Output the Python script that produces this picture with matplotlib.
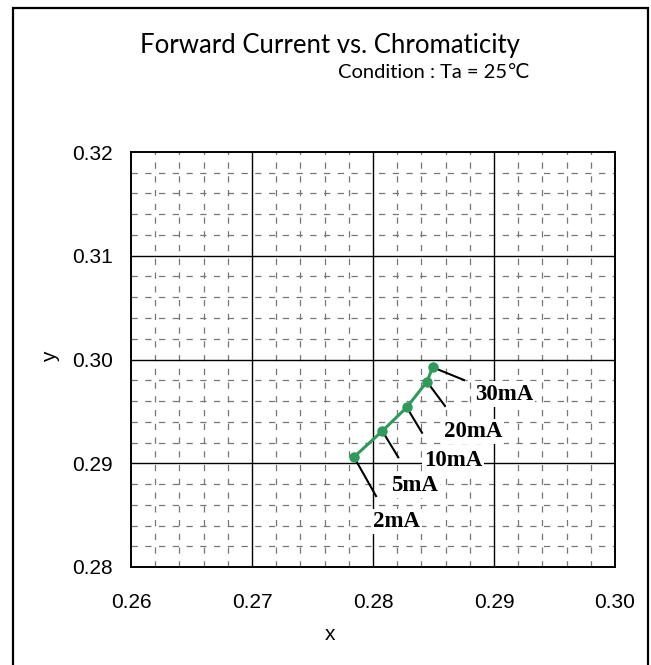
import numpy as np
import matplotlib
matplotlib.use("Agg")
import matplotlib.pyplot as plt
from matplotlib.patches import Rectangle

# data
currents = ["2mA", "5mA", "10mA", "20mA", "30mA"]
cx = [0.27843, 0.28077, 0.28279, 0.28446, 0.28493]
cy = [0.29060, 0.29311, 0.29539, 0.29786, 0.29925]

xticks = [0.26, 0.27, 0.28, 0.29, 0.30]
yticks = [0.28, 0.29, 0.30, 0.31, 0.32]

# leader line ends and label centres (layout only)
lead_end = [(0.28025, 0.28684), (0.28209, 0.29057), (0.28405, 0.29294),
            (0.28595, 0.29552), (0.28752, 0.29802)]
label_pos = [(0.28196, 0.28437), (0.28347, 0.28790), (0.28661, 0.29031),
             (0.28824, 0.29304), (0.29083, 0.29667)]

tick_font = "Liberation Sans"

fig = plt.figure(figsize=(6.51, 6.65), dpi=100)
ax = fig.add_axes([131 / 651, 1 - 567 / 665, 484 / 651, 415 / 665])

ax.set_xlim(0.26, 0.30)
ax.set_ylim(0.28, 0.32)

# minor dashed grid
for v in np.arange(0.26, 0.3001, 0.002):
    if abs(round(v / 0.01) * 0.01 - v) > 1e-6:
        ax.axvline(v, color="#777777", lw=0.9, ls=(0, (5, 6)), zorder=1)
for v in np.arange(0.28, 0.3201, 0.002):
    if abs(round(v / 0.01) * 0.01 - v) > 1e-6:
        ax.axhline(v, color="#777777", lw=0.9, ls=(0, (5, 6)), zorder=1)
# major solid grid
for v in xticks[1:-1]:
    ax.axvline(v, color="black", lw=1.0, zorder=1.5)
for v in yticks[1:-1]:
    ax.axhline(v, color="black", lw=1.0, zorder=1.5)

for s in ax.spines.values():
    s.set_linewidth(1.4)

ax.set_xticks(xticks)
ax.set_yticks(yticks)
ax.set_xticklabels([f"{t:.2f}" for t in xticks], family=tick_font, fontsize=15)
ax.set_yticklabels([f"{t:.2f}" for t in yticks], family=tick_font, fontsize=15)
ax.tick_params(axis="x", length=0, pad=19)
ax.tick_params(axis="y", length=0, pad=13)

# leader lines and labels
for i, lab in enumerate(currents):
    ax.plot([cx[i], lead_end[i][0]], [cy[i], lead_end[i][1]], color="black", lw=1.5, zorder=3)
    ax.text(label_pos[i][0], label_pos[i][1], lab, family="Liberation Serif", weight="bold",
            fontsize=16.5, ha="center", va="center", zorder=4,
            bbox=dict(facecolor="white", edgecolor="none", pad=1.5))

ax.plot(cx, cy, color="#2f9a5a", lw=2.2, marker="o", markersize=6.5, zorder=5)

fig.text(51 / 651, 1 - 357 / 665, "y", family=tick_font, fontsize=15, rotation=90,
         ha="center", va="center")
fig.text(330 / 651, 1 - 634 / 665, "x", family=tick_font, fontsize=15, ha="center", va="center")

fig.text(330 / 651, 1 - 45 / 665, "Forward Current vs. Chromaticity",
         family=["Lato", "DejaVu Sans"], fontsize=18.5, ha="center", va="center")
fig.text(530 / 651, 1 - 73 / 665, "Condition : Ta = 25\u2103",
         family=["Lato", "DejaVu Sans"], fontsize=14.5, ha="right", va="center")

fig.add_artist(Rectangle((13 / 651, -0.05), 635 / 651, 1 - 8 / 665 + 0.05,
                         transform=fig.transFigure, fill=False, edgecolor="black", lw=1.6))

fig.savefig("out.png", dpi=100)
